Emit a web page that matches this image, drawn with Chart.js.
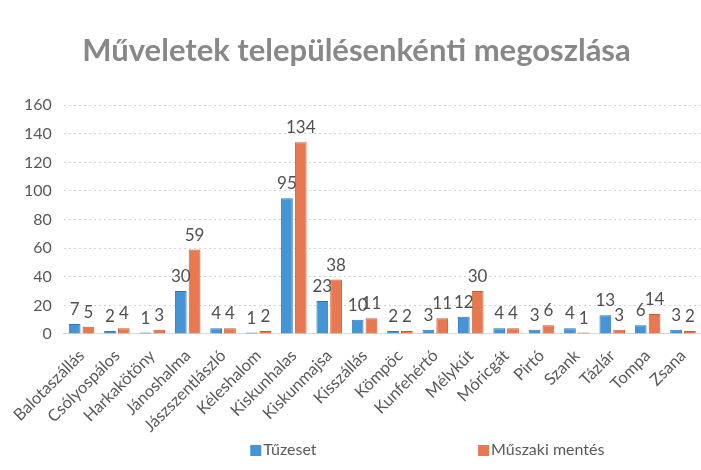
<!DOCTYPE html>
<html>
<head>
<meta charset="utf-8">
<script src="https://cdn.jsdelivr.net/npm/chart.js@4"></script>
<style>
  body { margin: 0; background: #fff; }
  #wrap { width: 701px; height: 470px; position: relative; }
</style>
</head>
<body>
<div id="wrap"><canvas id="myChart"></canvas></div>
<script>
var telepulesek = ["Balotaszállás", "Csólyospálos", "Harkakötöny", "Jánoshalma", "Jászszentlászló", "Kéleshalom",
  "Kiskunhalas", "Kiskunmajsa", "Kisszállás", "Kömpöc", "Kunfehértó", "Mélykút", "Móricgát", "Pirtó",
  "Szank", "Tázlár", "Tompa", "Zsana"];
var tuzeset = [7, 2, 1, 30, 4, 1, 95, 23, 10, 2, 3, 12, 4, 3, 4, 13, 6, 3];
var muszakiMentes = [5, 4, 3, 59, 4, 2, 134, 38, 11, 2, 11, 30, 4, 6, 1, 3, 14, 2];
var yTicks = [0, 20, 40, 60, 80, 100, 120, 140, 160];

Chart.defaults.font.family = "Lato, 'Open Sans', sans-serif";
Chart.defaults.color = '#595959';

// numbers above the bars
var valueLabels = {
  id: 'valueLabels',
  afterDatasetsDraw: function(chart) {
    var ctx = chart.ctx;
    ctx.save();
    ctx.font = "17px Lato, 'Open Sans', sans-serif";
    ctx.fillStyle = '#505050';
    ctx.textAlign = 'center';
    ctx.textBaseline = 'bottom';
    chart.data.datasets.forEach(function(ds, i) {
      chart.getDatasetMeta(i).data.forEach(function(bar, j) {
        ctx.fillText(ds.data[j], bar.x, bar.y - 6);
      });
    });
    ctx.restore();
  }
};

// legend spread out like the original
var spreadLegend = {
  id: 'spreadLegend',
  afterDraw: function(chart) {
    var ctx = chart.ctx;
    var xs = [0.357, 0.682];
    var y = chart.height - 20;
    ctx.save();
    ctx.font = "16px Lato, 'Open Sans', sans-serif";
    ctx.textBaseline = 'middle';
    ctx.textAlign = 'left';
    chart.data.datasets.forEach(function(ds, i) {
      var x = chart.width * xs[i];
      ctx.fillStyle = ds.backgroundColor;
      ctx.fillRect(x, y - 5, 11, 11);
      ctx.fillStyle = '#595959';
      ctx.fillText(ds.label, x + 13, y);
    });
    ctx.restore();
  }
};

var ctx = document.getElementById("myChart").getContext("2d");
var myChart = new Chart(ctx, {
  type: 'bar',
  data: {
    labels: telepulesek,
    datasets: [{
        label: 'Tűzeset',
        data: tuzeset,
        backgroundColor: '#4594d6',
        borderColor: '#2f78b8',
        borderWidth: 1
      },
      {
        label: 'Műszaki mentés',
        data: muszakiMentes,
        backgroundColor: '#e8784f',
        borderColor: '#c65c34',
        borderWidth: 1
    }]
  },
  options: {
    responsive: true,
    maintainAspectRatio: false,
    animation: false,
    categoryPercentage: 0.78,
    barPercentage: 0.85,
    layout: { padding: { left: 12, right: 0, top: 0, bottom: 30 } },
    plugins: {
      legend: { display: false },
      tooltip: { enabled: false },
      title: {
        display: true,
        text: 'Műveletek településenkénti megoszlása',
        color: '#888888',
        font: { size: 31, weight: 'bold' },
        padding: { top: 32, bottom: 36 }
      }
    },
    scales: {
      x: {
        grid: { display: false },
        border: { color: '#d9d9d9' },
        ticks: { font: { size: 16.5 }, maxRotation: 45, minRotation: 45, padding: 4 }
      },
      y: {
        min: 0,
        max: 160,
        afterBuildTicks: function(axis) {
          axis.ticks = yTicks.map(function(v) { return { value: v }; });
        },
        grid: { color: '#d4d4d4', drawTicks: false },
        border: { display: false, dash: [2, 3] },
        ticks: { font: { size: 16 }, padding: 12 }
      }
    }
  },
  plugins: [valueLabels, spreadLegend]
});
</script>
</body>
</html>
